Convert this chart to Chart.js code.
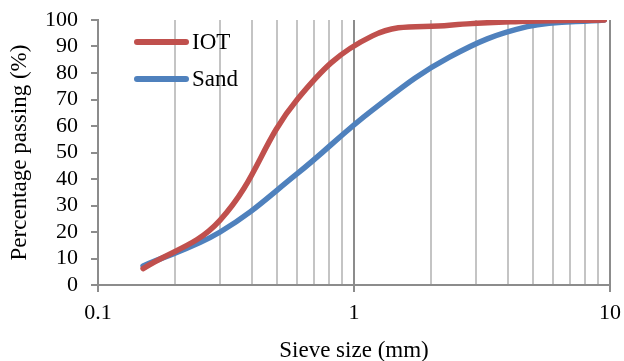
<!DOCTYPE html>
<html>
<head>
<meta charset="utf-8">
<script src="https://cdn.jsdelivr.net/npm/chart.js@4/dist/chart.umd.min.js"></script>
<style>
  html, body { margin: 0; padding: 0; background: #fff; }
  #wrap { width: 624px; height: 361px; }
</style>
</head>
<body>
<div id="wrap"><canvas id="myChart" width="624" height="361"></canvas></div>
<script>
// sieve sizes (mm) and % passing
const sieveSizes = [0.15, 0.3, 0.6, 1.18, 2.36, 4.75, 9.5];
const iotPassing = [6.2, 24.5, 70, 94, 98, 99.5, 100];
const sandPassing = [7.2, 20, 42, 66, 86, 97.5, 100];
const xTicks = [0.1, 0.2, 0.3, 0.4, 0.5, 0.6, 0.7, 0.8, 0.9, 1, 2, 3, 4, 5, 6, 7, 8, 9, 10];
const xLabels = [0.1, 1, 10];

const serif = "'Liberation Serif', 'Times New Roman', serif";
const axisGray = '#8c8c8c';

const pts = (ys) => sieveSizes.map((x, i) => ({ x: x, y: ys[i] }));

// legend drawn inside the plot, top left
const innerLegend = {
  id: 'innerLegend',
  afterDatasetsDraw(chart) {
    const ctx = chart.ctx;
    ctx.save();
    chart.data.datasets.forEach((ds, i) => {
      const y = 42 + i * 37;
      ctx.strokeStyle = ds.borderColor;
      ctx.lineWidth = 6;
      ctx.lineCap = 'round';
      ctx.beginPath();
      ctx.moveTo(137, y);
      ctx.lineTo(186, y);
      ctx.stroke();
      ctx.fillStyle = '#000';
      ctx.font = '23px ' + serif;
      ctx.textBaseline = 'middle';
      ctx.fillText(ds.label, 192, y + 1);
    });
    ctx.restore();
  }
};

const displayChart = () => {
  var ctx = document.getElementById('myChart').getContext('2d');
  var myChart = new Chart(ctx, {
    type: 'line',
    data: {
      datasets: [{
        label: 'IOT',
        data: pts(iotPassing),
        borderColor: '#C0504D',
        borderWidth: 5.5,
        tension: 0.4,
        pointRadius: 0,
        borderCapStyle: 'round',
      }, {
        label: 'Sand',
        data: pts(sandPassing),
        borderColor: '#4F81BD',
        borderWidth: 5.5,
        tension: 0.4,
        pointRadius: 0,
        borderCapStyle: 'round',
      }]
    },
    options: {
      responsive: false,
      animation: false,
      layout: { padding: { top: 20, right: 14, left: 0, bottom: 0 } },
      plugins: { legend: { display: false }, tooltip: { enabled: false } },
      scales: {
        x: {
          type: 'logarithmic',
          min: 0.1,
          max: 10,
          afterBuildTicks: (scale) => { scale.ticks = xTicks.map(v => ({ value: v })); },
          afterFit: (scale) => {
            scale.height = 76;
            scale.paddingLeft = 0;
            scale.paddingRight = 0;
          },
          ticks: {
            autoSkip: false,
            maxRotation: 0,
            color: '#000',
            font: { family: serif, size: 22 },
            padding: 8,
            callback: (v) => xLabels.includes(v) ? String(v) : '',
          },
          grid: {
            lineWidth: 2,
            color: (c) => (c.tick && xLabels.includes(c.tick.value)) ? axisGray : '#c4c4c4',
            tickColor: (c) => (c.tick && xLabels.includes(c.tick.value)) ? axisGray : 'rgba(0,0,0,0)',
            tickLength: 7,
          },
          border: { color: axisGray, width: 2 },
          title: {
            display: true,
            text: 'Sieve size (mm)',
            color: '#000',
            font: { family: serif, size: 23, lineHeight: 0.9 },
            padding: { top: 0, bottom: 0 },
          },
        },
        y: {
          min: 0,
          max: 100,
          afterFit: (scale) => {
            scale.width = 98;
            scale.paddingTop = 0;
            scale.paddingBottom = 0;
          },
          ticks: {
            stepSize: 10,
            autoSkip: false,
            color: '#000',
            font: { family: serif, size: 22 },
            padding: 13,
          },
          grid: {
            drawOnChartArea: false,
            color: axisGray,
            lineWidth: 2,
            tickLength: 7,
          },
          border: { color: axisGray, width: 2 },
          title: {
            display: true,
            text: 'Percentage passing (%)',
            color: '#000',
            font: { family: serif, size: 23 },
            padding: { top: 6, bottom: 0 },
          },
        }
      }
    },
    plugins: [innerLegend]
  });
};

displayChart();
</script>
</body>
</html>
